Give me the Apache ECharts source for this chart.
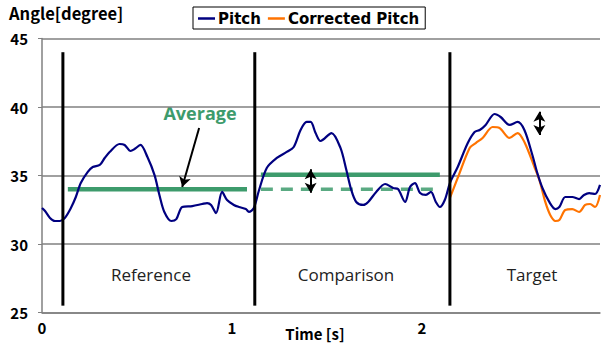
<!DOCTYPE html>
<html><head><meta charset="utf-8">
<script src="https://cdn.jsdelivr.net/npm/echarts@6/dist/echarts.min.js"></script>
<style>html,body{margin:0;padding:0;background:#fff}#c{width:603px;height:347px}</style>
</head><body><div id="c"></div>
<script>
// time [s]
var pitchTime = [0.000,0.016,0.042,0.068,0.094,0.120,0.152,0.178,0.204,0.241,0.267,0.304,0.330,0.356,0.408,0.435,0.466,0.487,0.518,0.555,0.592,0.618,0.644,0.681,0.707,0.738,0.791,0.843,0.869,0.890,0.916,0.948,0.974,1.010,1.037,1.073,1.089,1.115,1.141,1.183,1.236,1.288,1.325,1.361,1.393,1.414,1.440,1.466,1.524,1.571,1.602,1.628,1.654,1.691,1.717,1.759,1.806,1.848,1.874,1.911,1.937,1.963,1.990,2.021,2.047,2.073,2.094,2.120,2.147,2.188,2.241,2.277,2.304,2.335,2.382,2.414,2.461,2.503,2.539,2.581,2.607,2.634,2.670,2.702,2.723,2.754,2.791,2.827,2.853,2.880,2.911,2.937];
// Pitch [degree]
var pitch = [32.63,32.41,31.90,31.68,31.68,31.90,32.63,33.43,34.45,35.26,35.62,35.77,36.28,36.72,37.30,37.23,36.79,36.93,37.23,36.35,35.04,33.58,32.34,31.68,31.82,32.70,32.77,32.92,32.99,32.85,32.26,33.80,33.21,32.85,32.70,32.55,32.34,32.63,33.87,35.55,36.28,36.72,37.08,38.32,38.91,38.91,38.10,37.52,38.10,37.01,35.40,33.94,33.07,32.85,33.07,33.80,34.38,34.09,34.01,33.07,34.16,34.45,33.72,33.58,33.80,33.07,32.70,33.21,34.45,35.62,37.37,38.18,38.32,38.69,39.49,39.27,38.69,38.91,38.32,36.50,35.18,34.09,33.07,32.55,32.70,33.43,33.43,33.28,33.58,33.72,33.65,34.31];
var corrTime = [2.147,2.188,2.251,2.283,2.319,2.372,2.408,2.461,2.503,2.539,2.592,2.618,2.649,2.675,2.702,2.723,2.754,2.791,2.827,2.859,2.885,2.911,2.937];
// Corrected Pitch [degree]
var corrPitch = [33.36,34.82,37.01,37.37,37.74,38.54,38.47,37.74,38.10,37.45,35.62,34.67,33.07,32.12,31.68,31.75,32.48,32.55,32.34,32.85,32.92,32.70,33.58];
// section boundaries [s]
var dividerTimes = [0.11, 1.12, 2.147];
var dividerRange = [25.5, 44.0];
// average levels
var refAvg = 34.0, refAvgSpan = [0.136, 1.079];
var compAvg = 35.05, compAvgSpan = [1.152, 2.094];
var sectionNames = ['Reference', 'Comparison', 'Target'];
var yTicks = [25, 30, 35, 40, 45];
var xTicks = [0, 1, 2];

function pairs(t, v) { return t.map(function (x, i) { return [x, v[i]]; }); }

var chart = echarts.init(document.getElementById('c'), null, {renderer: 'svg'});
var lab = {fontFamily: 'Noto Sans CJK JP', fontWeight: 'bold', fontSize: 15, color: '#000'};
var green = '#3d9b6c';

var series = [
  {name: 'Pitch', type: 'line', data: pairs(pitchTime, pitch), symbol: 'none', smooth: 0.3,
   lineStyle: {color: '#000080', width: 2.2}, itemStyle: {color: '#000080'}, z: 5},
  {name: 'Corrected Pitch', type: 'line', data: pairs(corrTime, corrPitch), symbol: 'none', smooth: 0.3,
   lineStyle: {color: '#ff7300', width: 2.2}, itemStyle: {color: '#ff7300'}, z: 4},
  {name: 'refAvg', type: 'line', data: [[refAvgSpan[0], refAvg], [refAvgSpan[1], refAvg]], symbol: 'none',
   lineStyle: {color: green, width: 4.5}, z: 3},
  {name: 'compAvg', type: 'line', data: [[compAvgSpan[0], compAvg], [compAvgSpan[1], compAvg]], symbol: 'none',
   lineStyle: {color: green, width: 4.5}, z: 3},
  {name: 'refAvgCopy', type: 'line', data: [[compAvgSpan[0], refAvg], [compAvgSpan[1], refAvg]], symbol: 'none',
   lineStyle: {color: green, width: 3.5, type: [12, 8], opacity: 0.85}, z: 3}
];
dividerTimes.forEach(function (t, i) {
  series.push({name: 'div' + i, type: 'line', data: [[t, dividerRange[0]], [t, dividerRange[1]]], symbol: 'none',
    lineStyle: {color: '#000', width: 3}, z: 6});
});
// annotation arrows
series.push({name: 'arrows', type: 'line', data: [], symbol: 'none',
  markLine: {silent: true, symbolSize: [9, 10], label: {show: false},
    lineStyle: {color: '#000', width: 2, type: 'solid'},
    data: [
      [{coord: [0.827, 38.47], symbol: 'none'}, {coord: [0.738, 34.16], symbol: 'arrow'}],
      [{coord: [1.414, 35.45], symbol: 'arrow'}, {coord: [1.414, 33.75], symbol: 'arrow'}],
      [{coord: [2.618, 39.65], symbol: 'arrow'}, {coord: [2.618, 37.95], symbol: 'arrow'}]
    ]}});

chart.setOption({
  animation: false,
  grid: {left: 42, right: 0, top: 38.5, bottom: 34.5, containLabel: false},
  legend: {data: [{name: 'Pitch', icon: 'rect'}, {name: 'Corrected Pitch', icon: 'rect'}],
    left: 193, top: 7, padding: [4, 6, 3, 5],
    borderColor: '#000', borderWidth: 1, itemGap: 7, itemWidth: 17, itemHeight: 2.5,
    textStyle: {fontFamily: 'DejaVu Sans', fontWeight: 'bold', fontSize: 15, color: '#000', padding: [0, 0, 0, -2]}},
  xAxis: {type: 'value', min: 0, max: 2.937, interval: 1,
    axisLine: {lineStyle: {color: '#808080', width: 1.5}},
    axisTick: {show: false}, splitLine: {show: false},
    axisLabel: Object.assign({margin: 7, formatter: function (v) { return xTicks.indexOf(v) >= 0 ? String(v) : ''; }}, lab)},
  yAxis: {type: 'value', min: yTicks[0], max: yTicks[yTicks.length - 1], interval: 5,
    axisLine: {show: true, lineStyle: {color: '#808080', width: 1.5}},
    axisTick: {show: true, inside: false, length: 4, lineStyle: {color: '#808080'}},
    splitLine: {show: true, lineStyle: {color: '#808080', width: 1.5}},
    axisLabel: Object.assign({margin: 14}, lab)},
  graphic: [
    {type: 'text', left: 9, top: 5, style: {text: 'Angle[degree]', font: 'bold 16.5px "Noto Sans CJK JP"', fill: '#000'}},
    {type: 'text', x: 315, y: 333, style: {text: 'Time [s]', font: 'bold 15px "Noto Sans CJK JP"', fill: '#000', textAlign: 'center', textVerticalAlign: 'middle'}},
    {type: 'text', x: 200, y: 113, style: {text: 'Average', font: 'bold 18px "Open Sans"', fill: green, textAlign: 'center', textVerticalAlign: 'middle'}},
    {type: 'text', x: 151, y: 274, style: {text: sectionNames[0], font: '17px "Open Sans"', fill: '#222', textAlign: 'center', textVerticalAlign: 'middle'}},
    {type: 'text', x: 346, y: 274, style: {text: sectionNames[1], font: '17px "Open Sans"', fill: '#222', textAlign: 'center', textVerticalAlign: 'middle'}},
    {type: 'text', x: 532, y: 274, style: {text: sectionNames[2], font: '17px "Open Sans"', fill: '#222', textAlign: 'center', textVerticalAlign: 'middle'}}
  ],
  series: series
});
</script></body></html>
